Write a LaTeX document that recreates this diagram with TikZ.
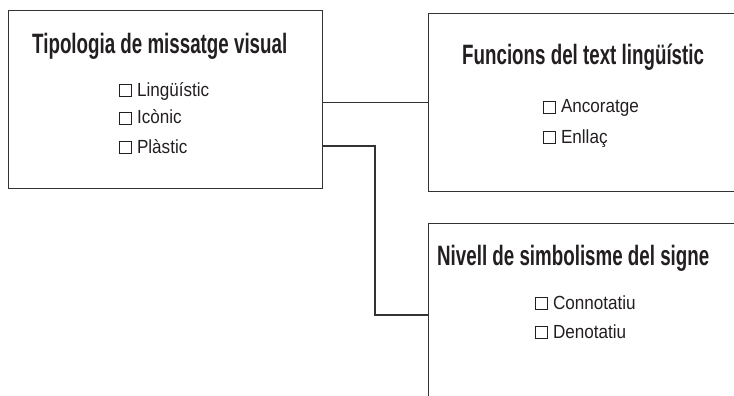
\documentclass[tikz,border=0pt]{standalone}
\usepackage{fontspec}
\setmainfont{Liberation Sans}
\newfontfamily\headfont{Liberation Sans}[FakeStretch=0.67]
\newfontfamily\itemfont{Liberation Sans}[FakeStretch=0.9]
\usetikzlibrary{calc}
\definecolor{ink}{HTML}{231F20}
\definecolor{rulegray}{HTML}{333333}

% empty tick box placed before each option
\newcommand\tickbox{\tikz[baseline=0pt]\draw[draw=ink,line width=0.8pt] (0pt,0pt) rectangle (12pt,12pt);}

\tikzset{
  panel/.style={draw=rulegray, line width=1.4pt, anchor=north west, inner sep=0pt},
  heading/.style={anchor=base west, inner sep=0pt, text=ink,
    font=\headfont\bfseries\fontsize{28}{28}\selectfont},
  option/.style={anchor=base west, inner sep=0pt, text=ink,
    font=\itemfont\fontsize{19}{19}\selectfont},
  link/.style={draw=rulegray, line width=1.3pt},
}

\begin{document}
\begin{tikzpicture}[x=1pt,y=-1pt]
  \useasboundingbox (0,0) rectangle (734,396);
  \clip (0,0) rectangle (734,396);

  % panels (the two on the right run past the page edge)
  \node[panel, minimum width=314pt, minimum height=178pt] (typo) at (8,10) {};
  \node[panel, minimum width=340pt, minimum height=178pt] (func) at (428,13) {};
  \node[panel, minimum width=340pt, minimum height=210pt] (nivell) at (428,223) {};

  % headings
  \node[heading] (typoT) at (32,54) {Tipologia de missatge visual};
  \node[heading] (funcT) at (462,65) {Funcions del text lingüístic};
  \node[heading] (nivellT) at (437,265) {Nivell de simbolisme del signe};

  % options
  \node[option] (o1) at (119,96)  {\tickbox\hspace{5pt}Lingüístic};
  \node[option] (o2) at (119,124) {\tickbox\hspace{5pt}Icònic};
  \node[option] (o3) at (119,153) {\tickbox\hspace{5pt}Plàstic};
  \node[option] (o4) at (543,113) {\tickbox\hspace{5pt}Ancoratge};
  \node[option] (o5) at (543,143) {\tickbox\hspace{5pt}Enllaç};
  \node[option] (o6) at (535,309) {\tickbox\hspace{5pt}Connotatiu};
  \node[option] (o7) at (535,338) {\tickbox\hspace{5pt}Denotatiu};

  % connectors
  \draw[link] (typo.east |- func.west) -- (func.west);
  \coordinate (entry) at ($(nivell.north west)+(0,92)$);
  \coordinate (exit) at ($(typo.north east)+(0,136)$);
  \draw[link] (exit) -| ($(entry)+(-53,0)$) -- (entry);
\end{tikzpicture}
\end{document}
